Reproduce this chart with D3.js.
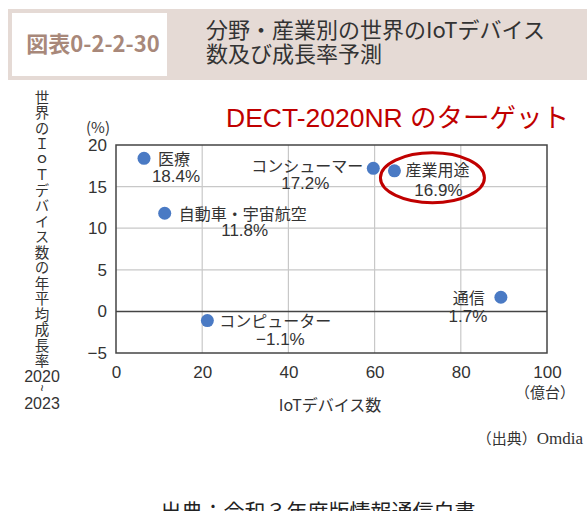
<!DOCTYPE html>
<html>
<head>
<meta charset="utf-8">
<script src="https://cdn.jsdelivr.net/npm/d3@7"></script>
<style>
  body { margin: 0; background: #fff; }
  svg { display: block; font-family: "Noto Sans CJK JP", "Noto Sans", sans-serif; }
</style>
</head>
<body>
<div id="chart"></div>
<script>
// data
const categories = ["医療", "自動車・宇宙航空", "コンピューター", "コンシューマー", "産業用途", "通信"];
const deviceCounts = [6.5, 11.3, 21.2, 59.7, 64.6, 89.3];   // 億台
const growthRates = [18.4, 11.8, -1.1, 17.2, 16.9, 1.7];    // %
const xTicks = [0, 20, 40, 60, 80, 100];
const yTicks = [-5, 0, 5, 10, 15, 20];

const data = categories.map((c, i) => ({ name: c, x: deviceCounts[i], y: growthRates[i] }));

// label placement relative to each dot: [name dx, name dy, anchor, value dx, value dy]
const labelPos = {
  "医療": [14, 1, "start", 32, 18],
  "自動車・宇宙航空": [14, 1, "start", 80, 17],
  "コンピューター": [12, 1, "start", 73, 19],
  "コンシューマー": [-10, -2, "end", -68, 15],
  "産業用途": [11, 0, "start", 44, 19],
  "通信": [-16, 1, "end", -33, 19]
};

const width = 587;
const height = 511;
const margin = { top: 145, right: 40, bottom: 158, left: 116 };

const xScale = d3.scaleLinear().domain([0, 100]).range([margin.left, width - margin.right]);
const yScale = d3.scaleLinear().domain([-5, 20]).range([height - margin.bottom, margin.top]);

const svg = d3.select("#chart")
  .append("svg")
    .attr("width", width)
    .attr("height", height)
    .attr("viewBox", `0 0 ${width} ${height}`);

// title band
svg.append("rect")
  .attr("x", 8).attr("y", 9).attr("width", width - 8).attr("height", 71)
  .attr("fill", "#e5dad5");
svg.append("rect")
  .attr("x", 12).attr("y", 13).attr("width", 155).attr("height", 63)
  .attr("fill", "#fff");
svg.append("text")
  .attr("x", 93).attr("y", 52)
  .attr("text-anchor", "middle")
  .attr("fill", "#a8887a")
  .attr("font-size", 22)
  .attr("font-weight", "bold")
  .text("図表0-2-2-30");
svg.append("text")
  .attr("x", 206).attr("y", 38)
  .attr("fill", "#333")
  .attr("font-size", 22)
  .text("分野・産業別の世界のIoTデバイス");
svg.append("text")
  .attr("x", 206).attr("y", 62)
  .attr("fill", "#333")
  .attr("font-size", 22)
  .text("数及び成長率予測");

// red annotation
svg.append("text")
  .attr("x", 226).attr("y", 127)
  .attr("fill", "#c00000")
  .attr("font-size", 26.5)
  .attr("font-family", "'Liberation Sans', 'Noto Sans CJK JP', sans-serif")
  .text("DECT-2020NR のターゲット");

const plot = svg.append("g");

// grid
plot.append("g")
  .selectAll("line")
  .data(xTicks.slice(1, -1))
  .join("line")
    .attr("x1", (d) => xScale(d)).attr("x2", (d) => xScale(d))
    .attr("y1", yScale(20)).attr("y2", yScale(-5))
    .attr("stroke", "#c8c8c8").attr("stroke-width", 1.2);
plot.append("g")
  .selectAll("line")
  .data(yTicks.filter((d) => d !== 0 && d !== -5 && d !== 20))
  .join("line")
    .attr("x1", xScale(0)).attr("x2", xScale(100))
    .attr("y1", (d) => yScale(d)).attr("y2", (d) => yScale(d))
    .attr("stroke", "#c8c8c8").attr("stroke-width", 1.2);

// zero line
plot.append("line")
  .attr("x1", xScale(0)).attr("x2", xScale(100))
  .attr("y1", yScale(0)).attr("y2", yScale(0))
  .attr("stroke", "#444").attr("stroke-width", 1.5);

// frame
plot.append("rect")
  .attr("x", xScale(0)).attr("y", yScale(20))
  .attr("width", xScale(100) - xScale(0))
  .attr("height", yScale(-5) - yScale(20))
  .attr("fill", "none")
  .attr("stroke", "#444")
  .attr("stroke-width", 1.5);

// axes
const xAxis = plot.append("g")
  .attr("transform", `translate(0, ${yScale(-5)})`)
  .call(d3.axisBottom(xScale).tickValues(xTicks).tickSize(0).tickPadding(13));
xAxis.select(".domain").remove();
xAxis.selectAll("text")
  .attr("font-size", 17).attr("fill", "#333")
  .attr("font-family", "'Liberation Sans', sans-serif");

const yAxis = plot.append("g")
  .attr("transform", `translate(${xScale(0)}, 0)`)
  .call(d3.axisLeft(yScale).tickValues(yTicks).tickSize(0).tickPadding(9)
    .tickFormat((d) => (d < 0 ? "\u2212" + Math.abs(d) : d)));
yAxis.select(".domain").remove();
yAxis.selectAll("text")
  .attr("font-size", 17).attr("fill", "#333")
  .attr("font-family", "'Liberation Sans', sans-serif");

// axis titles
svg.append("text")
  .attr("x", 98).attr("y", 133)
  .attr("text-anchor", "middle")
  .attr("font-size", 15).attr("fill", "#333")
  .text("(%)");

// vertical y title
svg.append("text")
  .attr("x", 42).attr("y", 90)
  .style("writing-mode", "vertical-rl")
  .style("text-orientation", "upright")
  .style("letter-spacing", "1px")
  .attr("font-size", 14.5)
  .attr("fill", "#333")
  .text("世界のＩｏＴデバイス数の年平均成長率");
svg.append("text")
  .attr("x", 42).attr("y", 382)
  .attr("text-anchor", "middle")
  .attr("font-size", 16).attr("fill", "#333")
  .attr("font-family", "'Liberation Sans', sans-serif")
  .text("2020");
svg.append("text")
  .attr("x", 42).attr("y", 388)
  .attr("text-anchor", "middle")
  .attr("dy", "0.35em")
  .attr("font-size", 12).attr("fill", "#333")
  .attr("font-family", "'Liberation Sans', sans-serif")
  .attr("transform", "rotate(90, 42, 388)")
  .text("~");
svg.append("text")
  .attr("x", 42).attr("y", 409)
  .attr("text-anchor", "middle")
  .attr("font-size", 16).attr("fill", "#333")
  .attr("font-family", "'Liberation Sans', sans-serif")
  .text("2023");

svg.append("text")
  .attr("x", 545).attr("y", 398)
  .attr("text-anchor", "middle")
  .attr("font-size", 15).attr("fill", "#333")
  .text("（億台）");
svg.append("text")
  .attr("x", 330).attr("y", 411)
  .attr("text-anchor", "middle")
  .attr("font-size", 16).attr("fill", "#333")
  .text("IoTデバイス数");
svg.append("text")
  .attr("x", 583).attr("y", 444)
  .attr("text-anchor", "end")
  .attr("font-size", 15).attr("fill", "#333")
  .html("（出典）<tspan font-family=\"'Liberation Serif', serif\" font-size=\"17\">Omdia</tspan>");

// highlight ellipse around 産業用途
const target = data.find((d) => d.name === "産業用途");
plot.append("ellipse")
  .attr("cx", xScale(target.x) + 38)
  .attr("cy", yScale(target.y) + 7)
  .attr("rx", 52).attr("ry", 25)
  .attr("fill", "none")
  .attr("stroke", "#c00000")
  .attr("stroke-width", 3);

// dots
plot.selectAll(".dot")
  .data(data)
  .join("circle")
    .attr("class", "dot")
    .attr("cx", (d) => xScale(d.x))
    .attr("cy", (d) => yScale(d.y))
    .attr("r", 6.5)
    .attr("fill", "#4a7ac4");

// labels
const labels = plot.selectAll(".lbl")
  .data(data)
  .join("g")
    .attr("class", "lbl")
    .attr("transform", (d) => `translate(${xScale(d.x)}, ${yScale(d.y)})`);
labels.append("text")
  .attr("x", (d) => labelPos[d.name][0])
  .attr("y", (d) => labelPos[d.name][1])
  .attr("dy", "0.35em")
  .attr("text-anchor", (d) => labelPos[d.name][2])
  .attr("font-size", 16).attr("fill", "#333")
  .text((d) => d.name);
labels.append("text")
  .attr("x", (d) => labelPos[d.name][3])
  .attr("y", (d) => labelPos[d.name][4])
  .attr("dy", "0.35em")
  .attr("text-anchor", "middle")
  .attr("font-size", 17).attr("fill", "#333")
  .attr("font-family", "'Liberation Sans', sans-serif")
  .text((d) => (d.y < 0 ? "\u2212" + Math.abs(d.y) : d.y) + "%");

// footer, cut by the bottom edge
svg.append("text")
  .attr("x", 318).attr("y", 519)
  .attr("text-anchor", "middle")
  .attr("font-size", 21).attr("fill", "#222")
  .text("出典：令和３年度版情報通信白書");
</script>
</body>
</html>
